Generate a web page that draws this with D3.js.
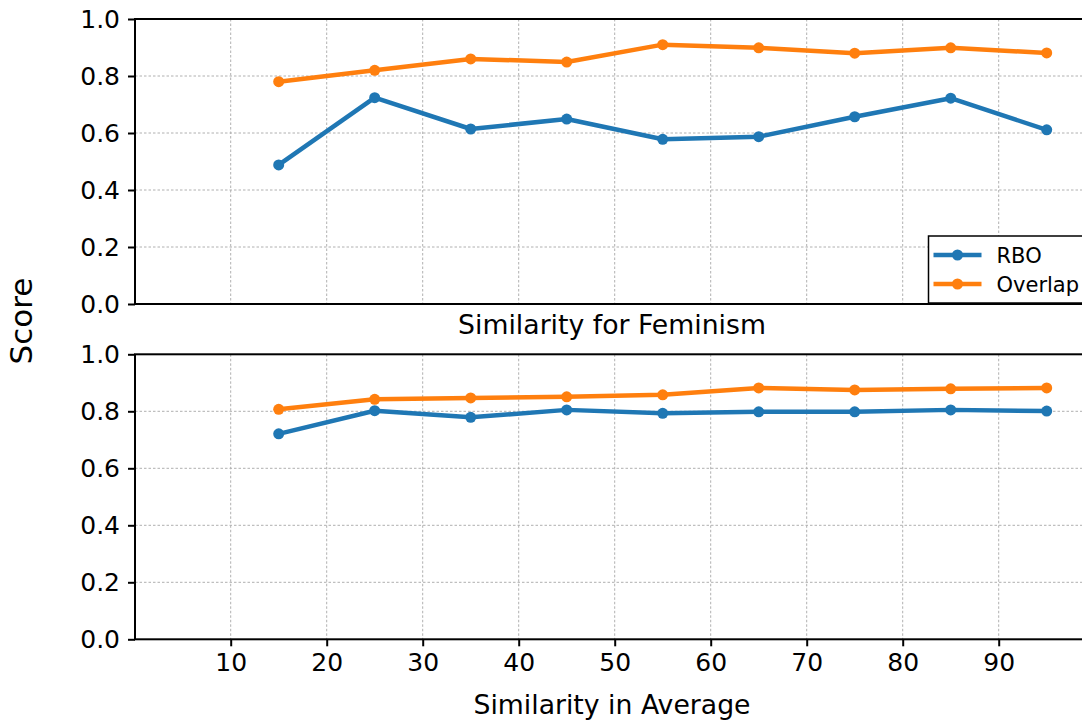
<!DOCTYPE html>
<html>
<head>
<meta charset="utf-8">
<script src="https://cdn.jsdelivr.net/npm/d3@7"></script>
<style>
  body { margin: 0; background: #fff; }
  svg { font-family: "DejaVu Sans", sans-serif; }
  .grid line { stroke: #b0b0b0; stroke-width: 1; stroke-dasharray: 2.5,2; }
</style>
</head>
<body>
<div id="chart"></div>
<script>
// similarity buckets (x)
const buckets = [15, 25, 35, 45, 55, 65, 75, 85, 95];
const xTicks = [10, 20, 30, 40, 50, 60, 70, 80, 90];
const yTicks = [0, 0.2, 0.4, 0.6, 0.8, 1.0];

// top panel: Feminism
const feminismRBO     = [0.488, 0.724, 0.614, 0.649, 0.578, 0.587, 0.657, 0.722, 0.611];
const feminismOverlap = [0.780, 0.820, 0.860, 0.849, 0.910, 0.899, 0.880, 0.899, 0.881];
// bottom panel: Average
const averageRBO      = [0.721, 0.802, 0.779, 0.805, 0.793, 0.798, 0.798, 0.805, 0.801];
const averageOverlap  = [0.807, 0.842, 0.847, 0.851, 0.858, 0.882, 0.875, 0.879, 0.882];

const seriesNames = ["RBO", "Overlap"];
const colors = {RBO: "#1f77b4", Overlap: "#ff7f0e"};

const width = 1082, height = 720;
const left = 135, right = 1095;

const svg = d3.select("#chart").append("svg")
    .attr("width", width)
    .attr("height", height);

const x = d3.scaleLinear().domain([0, 100]).range([left - 0.3, right - 0.3]);

function drawPanel(top, bottom, rbo, overlap, showX, showLegend) {
    const y = d3.scaleLinear().domain([0, 1]).range([bottom, top]);
    const g = svg.append("g");

    // grid
    const grid = g.append("g").attr("class", "grid");
    grid.selectAll(".gx").data(xTicks).enter().append("line")
        .attr("x1", d => x(d)).attr("x2", d => x(d))
        .attr("y1", top).attr("y2", bottom);
    grid.selectAll(".gy").data(yTicks.slice(1, -1)).enter().append("line")
        .attr("x1", left).attr("x2", right)
        .attr("y1", d => y(d)).attr("y2", d => y(d));

    // lines + markers
    const data = {RBO: rbo, Overlap: overlap};
    const line = d3.line().x((d, i) => x(buckets[i])).y(d => y(d));
    seriesNames.forEach(name => {
        g.append("path")
            .datum(data[name])
            .attr("fill", "none")
            .attr("stroke", colors[name])
            .attr("stroke-width", 4.5)
            .attr("stroke-linejoin", "round")
            .attr("stroke-linecap", "round")
            .attr("d", line);
        g.selectAll(".m-" + name).data(data[name]).enter().append("circle")
            .attr("cx", (d, i) => x(buckets[i]))
            .attr("cy", d => y(d))
            .attr("r", 5.5)
            .attr("fill", colors[name]);
    });

    // y axis
    const yAxis = d3.axisLeft(y).tickValues(yTicks).tickFormat(d3.format(".1f"))
        .tickSize(7).tickPadding(8);
    const ya = g.append("g").attr("transform", "translate(" + left + ",0)").call(yAxis);
    ya.select(".domain").remove();
    ya.selectAll(".tick line").attr("stroke", "#000").attr("stroke-width", 2);
    ya.selectAll("text").attr("font-size", 25).attr("fill", "#000")
        .attr("font-family", "DejaVu Sans");

    // x axis
    if (showX) {
        const xAxis = d3.axisBottom(x).tickValues(xTicks).tickSize(7).tickPadding(7);
        const xa = g.append("g").attr("transform", "translate(0," + bottom + ")").call(xAxis);
        xa.select(".domain").remove();
        xa.selectAll(".tick line").attr("stroke", "#000").attr("stroke-width", 2);
        xa.selectAll("text").attr("font-size", 25).attr("fill", "#000")
            .attr("font-family", "DejaVu Sans");
    }

    // spines
    g.append("rect")
        .attr("x", left).attr("y", top)
        .attr("width", right - left).attr("height", bottom - top)
        .attr("fill", "none").attr("stroke", "#000").attr("stroke-width", 2);

    if (showLegend) {
        const lg = g.append("g").attr("transform", "translate(928.5," + (bottom - 68) + ")");
        lg.append("rect")
            .attr("width", 180).attr("height", 67)
            .attr("fill", "#fff").attr("stroke", "#000").attr("stroke-width", 1.5);
        seriesNames.forEach((name, i) => {
            const yy = 19 + i * 29;
            lg.append("line")
                .attr("x1", 5).attr("x2", 53).attr("y1", yy).attr("y2", yy)
                .attr("stroke", colors[name]).attr("stroke-width", 4.5);
            lg.append("circle").attr("cx", 29).attr("cy", yy).attr("r", 5.5)
                .attr("fill", colors[name]);
            lg.append("text").attr("x", 68).attr("y", yy + 7.5)
                .attr("font-size", 21).text(name);
        });
    }
}

drawPanel(19, 304, feminismRBO, feminismOverlap, false, true);
drawPanel(354.3, 639.3, averageRBO, averageOverlap, true, false);

svg.append("text")
    .attr("x", 612).attr("y", 334)
    .attr("text-anchor", "middle")
    .attr("font-size", 26.7)
    .text("Similarity for Feminism");

svg.append("text")
    .attr("x", 612).attr("y", 714)
    .attr("text-anchor", "middle")
    .attr("font-size", 26.7)
    .text("Similarity in Average");

svg.append("text")
    .attr("transform", "translate(32,321) rotate(-90)")
    .attr("text-anchor", "middle")
    .attr("font-size", 31)
    .text("Score");
</script>
</body>
</html>
